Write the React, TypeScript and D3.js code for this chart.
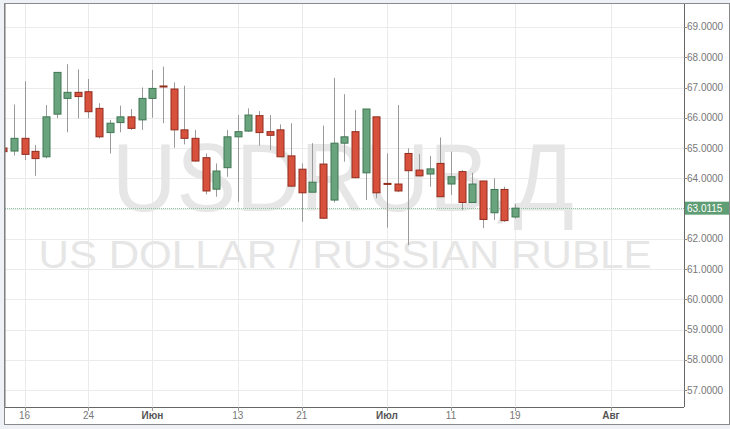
import * as d3 from 'd3';

// USD/RUB daily candles, 12 May – 19 Jul (trading days)
const dates = [
  '05-12', '05-13', '05-16', '05-17', '05-18', '05-19', '05-20',
  '05-23', '05-24', '05-25', '05-26', '05-27',
  '05-30', '05-31', '06-01', '06-02', '06-03',
  '06-06', '06-07', '06-08', '06-09', '06-10',
  '06-13', '06-14', '06-15', '06-16', '06-17',
  '06-20', '06-21', '06-22', '06-23', '06-24',
  '06-27', '06-28', '06-29', '06-30', '07-01',
  '07-04', '07-05', '07-06', '07-07', '07-08',
  '07-11', '07-12', '07-13', '07-14', '07-15',
  '07-18', '07-19',
];
const open = [
  65.0, 64.9, 65.32, 64.89, 64.71, 66.12, 66.64, 66.84, 66.86, 66.31, 65.51, 65.84,
  66.03, 65.93, 66.64, 67.05, 66.95, 65.6, 65.32, 64.68, 63.64, 64.35, 65.37, 65.56,
  66.07, 65.54, 65.6, 64.74, 64.3, 63.54, 64.47, 63.28, 65.16, 65.54, 64.18, 66.03,
  63.83, 63.81, 64.82, 64.27, 64.14, 64.49, 63.81, 64.22, 63.2, 63.91, 62.86, 63.63, 62.72,
];
const high = [
  65.05, 66.44, 67.21, 65.1, 66.42, 67.5, 67.77, 67.6, 67.28, 66.48, 65.93, 66.4,
  66.29, 67.0, 67.58, 67.69, 67.17, 67.06, 65.6, 64.82, 64.49, 65.6, 66.09, 66.31,
  66.22, 66.09, 65.78, 65.82, 64.49, 65.16, 65.74, 67.32, 66.78, 66.26, 66.29, 66.03,
  64.82, 66.42, 64.99, 64.8, 64.74, 65.35, 64.88, 64.27, 64.18, 63.91, 64.0, 63.72, 63.15,
];
const low = [
  64.83, 64.75, 64.6, 64.08, 64.66, 65.99, 65.52, 65.98, 65.98, 65.32, 64.82, 65.52,
  65.6, 65.6, 66.0, 65.82, 65.01, 65.12, 64.55, 63.47, 63.39, 64.05, 63.22, 65.54,
  65.08, 64.93, 64.71, 63.72, 62.56, 63.54, 62.66, 63.2, 64.55, 64.0, 63.28, 63.34,
  62.37, 63.54, 61.79, 64.07, 63.72, 63.39, 63.45, 62.95, 63.2, 62.35, 62.62, 62.56, 62.67,
];
const close = [
  64.88, 65.32, 64.79, 64.65, 66.03, 67.5, 66.84, 66.7, 66.2, 65.37, 65.82, 66.03,
  65.65, 66.64, 66.97, 67.03, 65.6, 65.32, 64.57, 63.58, 64.24, 65.37, 65.54, 66.09,
  65.51, 65.42, 64.71, 63.74, 63.52, 63.87, 62.68, 65.16, 65.37, 64.02, 66.29, 63.52,
  63.8, 63.58, 64.25, 64.08, 64.31, 63.39, 64.05, 63.2, 63.81, 62.64, 63.63, 62.6, 63.0115,
];

// x ticks: trading-day index and label (Aug 1 lies past the data)
const xTickIndex = [2, 8, 14, 22, 28, 36, 42, 48, 57];
const xTickLabels = ['16', '24', 'Июн', '13', '21', 'Июл', '11', '19', 'Авг'];
const monthLabels = ['Июн', 'Июл', 'Авг'];
const yTicks = [57, 58, 59, 60, 61, 62, 63, 64, 65, 66, 67, 68, 69];
const lastPrice = 63.0115;

const W = 730;
const H = 429;
const plot = { left: 5, right: 684, top: 4, bottom: 407 };
const font = '"Liberation Sans", Arial, sans-serif';

const upFill = '#6aa47f';
const upStroke = '#3f7652';
const downFill = '#d8513d';
const downStroke = '#922c1e';

export default function App() {
  const x = d3.scaleLinear().domain([0.17, 63.85]).range([plot.left, plot.right]);
  const y = d3.scaleLinear().domain([56.44, 69.76]).range([plot.bottom, plot.top]);
  const bw = 7;
  const py = Math.round(y(lastPrice)) + 0.5;

  return (
    <div style={{ position: 'absolute', left: 0, top: 0 }}>
      <svg width={W} height={H} style={{ display: 'block', fontFamily: font }}>
        <defs>
          <clipPath id="plotClip">
            <rect x={plot.left} y={plot.top} width={plot.right - plot.left} height={plot.bottom - plot.top} />
          </clipPath>
        </defs>
        <rect width={W} height={H} fill="#eef1f5" />
        <rect x={4.5} y={3.5} width={725} height={421} fill="#fff" stroke="#8a8a8a" />

        {/* grid */}
        <g stroke="#ebebeb" strokeWidth={1}>
          {yTicks.map((t) => (
            <line key={t} x1={plot.left} x2={plot.right} y1={Math.round(y(t)) + 0.5} y2={Math.round(y(t)) + 0.5} />
          ))}
          {xTickIndex.map((i) => (
            <line key={i} x1={Math.round(x(i)) + 0.5} x2={Math.round(x(i)) + 0.5} y1={plot.top} y2={plot.bottom} />
          ))}
        </g>

        {/* watermark */}
        <text x={343} y={211} fontSize={96} fill="#e6e6e6" textAnchor="middle" textLength={462} lengthAdjust="spacingAndGlyphs">
          USDRUB,Д
        </text>
        <text x={345} y={268} fontSize={39} fill="#e6e6e6" textAnchor="middle" textLength={613} lengthAdjust="spacingAndGlyphs">
          US DOLLAR / RUSSIAN RUBLE
        </text>

        {/* last price line */}
        <line x1={plot.left} x2={plot.right} y1={py} y2={py} stroke="#8fc3a1" strokeDasharray="1,1" />

        {/* candles */}
        <g clipPath="url(#plotClip)">
          {dates.map((d, i) => {
            const up = close[i] >= open[i];
            const cx = Math.round(x(i)) + 0.5;
            const top = y(Math.max(open[i], close[i]));
            const bot = y(Math.min(open[i], close[i]));
            return (
              <g key={d}>
                <line x1={cx} x2={cx} y1={y(high[i])} y2={y(low[i])} stroke="#9a9a9a" />
                <rect x={cx - bw / 2} y={top} width={bw} height={Math.max(1, bot - top)}
                  fill={up ? upFill : downFill} stroke={up ? upStroke : downStroke} />
              </g>
            );
          })}
        </g>

        {/* axes */}
        <line x1={plot.left} x2={plot.left} y1={plot.top} y2={plot.bottom} stroke="#777" />
        <line x1={plot.right + 0.5} x2={plot.right + 0.5} y1={plot.top} y2={plot.bottom} stroke="#666" />
        <line x1={plot.left} x2={plot.right} y1={plot.bottom + 0.5} y2={plot.bottom + 0.5} stroke="#666" />

        <g fontSize={10} fill="#777">
          {yTicks.map((t) => (
            <g key={t}>
              <line x1={plot.right} x2={plot.right + 3} y1={Math.round(y(t)) + 0.5} y2={Math.round(y(t)) + 0.5} stroke="#888" />
              <text x={plot.right + 3} y={y(t)} dy="0.35em">{t.toFixed(4)}</text>
            </g>
          ))}
        </g>

        <g fontSize={10}>
          {xTickIndex.map((i, k) => {
            const label = xTickLabels[k];
            const bold = monthLabels.includes(label);
            return (
              <g key={i}>
                <line x1={Math.round(x(i)) + 0.5} x2={Math.round(x(i)) + 0.5} y1={plot.bottom} y2={plot.bottom + 4} stroke="#999" />
                <text x={x(i)} y={419} textAnchor="middle" fill={bold ? '#555' : '#777'} fontWeight={bold ? 'bold' : 'normal'}>
                  {label}
                </text>
              </g>
            );
          })}
        </g>

        {/* last price label */}
        <rect x={plot.right + 1} y={y(lastPrice) - 6.5} width={44} height={13} fill="#5f9e74" />
        <text x={plot.right + 3} y={y(lastPrice)} dy="0.35em" fontSize={10} fill="#fff">
          {lastPrice.toFixed(4)}
        </text>
      </svg>
    </div>
  );
}
